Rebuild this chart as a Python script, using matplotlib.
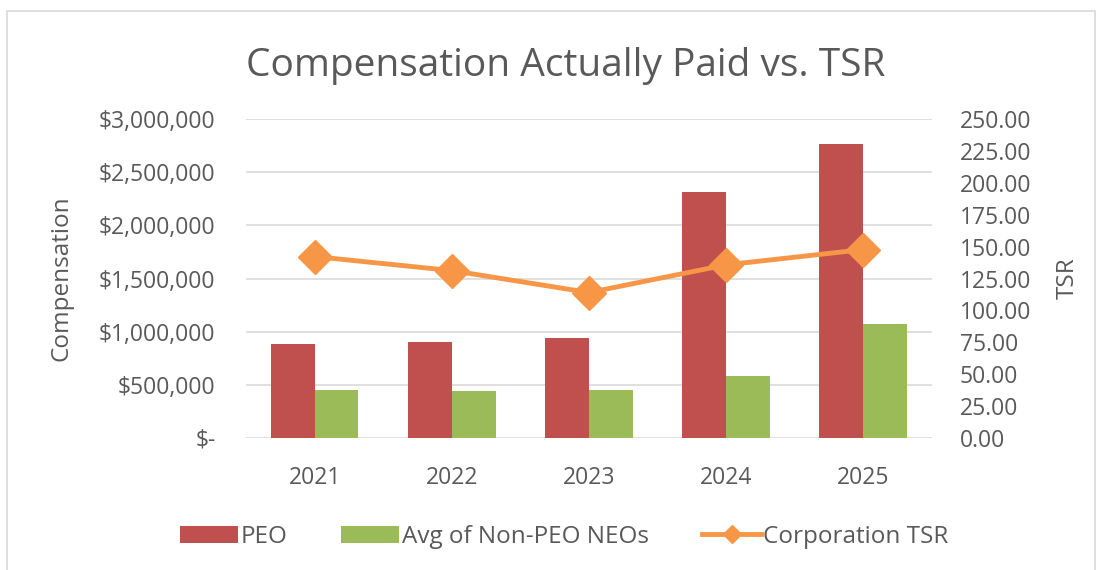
#! /usr/bin/env python3

# Compensation Actually Paid vs. TSR, bar + line on twin axes
import matplotlib
matplotlib.use("Agg")
import matplotlib.pyplot as plt
from matplotlib.patches import Rectangle
from matplotlib.ticker import FuncFormatter, MultipleLocator
import numpy as np

plt.rcParams['font.family'] = ['Open Sans', 'DejaVu Sans']

years = ['2021', '2022', '2023', '2024', '2025']
peo = [886000, 905000, 936000, 2314000, 2768000]
non_peo = [454000, 444000, 454000, 582000, 1071000]
tsr = [142.2, 131.2, 114.0, 135.7, 147.7]

grey = '#595959'
red = '#C0504D'
green = '#9BBB59'
orange = '#F79646'

def money(v, pos):
    if v == 0:
        return '$-'
    return '${:,.0f}'.format(v)

fig = plt.figure(figsize=(11.02, 5.70), dpi=100)
fig.patches.append(Rectangle((0.006, -0.01), 0.988, 0.99, transform=fig.transFigure,
                             fill=False, edgecolor='#D9D9D9', linewidth=1.2))

ax = fig.add_axes([0.2232, 0.2316, 0.6225, 0.5596])
x = np.arange(len(years))
w = 0.32
ax.bar(x - w / 2, peo, w, color=red, label='PEO', zorder=2)
ax.bar(x + w / 2, non_peo, w, color=green, label='Avg of Non-PEO NEOs', zorder=2)

ax.set_xlim(-0.5, len(years) - 0.5)
ax.set_ylim(0, 3000000)
ax.yaxis.set_major_locator(MultipleLocator(500000))
ax.yaxis.set_major_formatter(FuncFormatter(money))
ax.set_xticks(x)
ax.set_xticklabels(years)
ax.grid(axis='y', color='#D9D9D9', linewidth=1.2, zorder=0)
for s in ax.spines.values():
    s.set_visible(False)
ax.tick_params(length=0, labelsize=16.5, colors=grey, pad=22)
ax.tick_params(axis='x', pad=20)
ax.set_ylabel('Compensation', fontsize=17.5, color=grey, labelpad=18)

ax2 = ax.twinx()
ax2.plot(x, tsr, color=orange, linewidth=3.5, marker='D', markersize=17,
         label='Corporation TSR', zorder=3)
ax2.set_ylim(0, 250)
ax2.yaxis.set_major_locator(MultipleLocator(25))
ax2.yaxis.set_major_formatter(FuncFormatter(lambda v, p: '{:.2f}'.format(v)))
for s in ax2.spines.values():
    s.set_visible(False)
ax2.tick_params(length=0, labelsize=16.5, colors=grey, pad=20)
ax2.set_ylabel('TSR', fontsize=17.5, color=grey, labelpad=18)

fig.suptitle('Compensation Actually Paid vs. TSR', fontsize=28, color=grey,
             x=0.513, y=0.918)

h1, l1 = ax.get_legend_handles_labels()
h2, l2 = ax2.get_legend_handles_labels()
fig.legend(h1 + h2, l1 + l2, loc='center', bbox_to_anchor=(0.512, 0.058), ncol=3,
           frameon=False, fontsize=17.5, labelcolor=grey, handlelength=2.4,
           handletextpad=0.1, columnspacing=2.2, markerscale=0.55)

fig.savefig('out.png', dpi=100)
